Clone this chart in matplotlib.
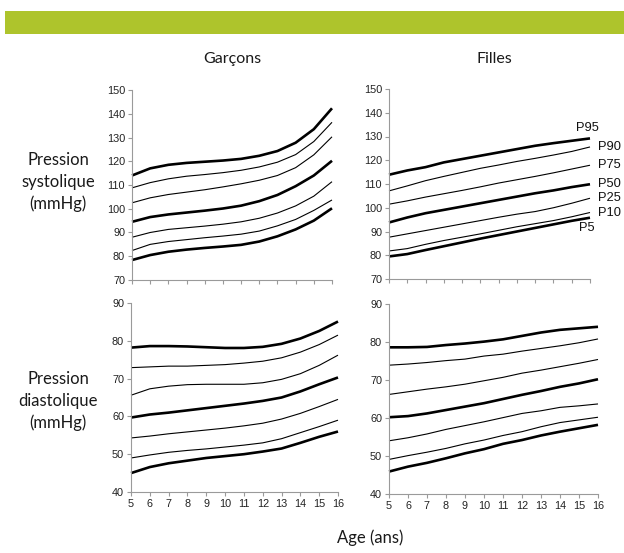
"""Courbes de pression artérielle (P5-P95) garçons / filles, 5 à 16 ans."""
import numpy as np
import matplotlib
matplotlib.use("Agg")
import matplotlib.pyplot as plt
from matplotlib.patches import Rectangle

plt.rcParams.update({"font.family": ["Liberation Sans", "DejaVu Sans"]})

ages = list(range(5, 17))
pct_names = ["P95", "P90", "P75", "P50", "P25", "P10", "P5"]
thick = {"P95", "P50", "P5"}

# pression systolique, garçons
sys_boys = {
    "P95": [114, 117, 118.5, 119.3, 119.8, 120.3, 121, 122.3, 124.3, 127.8, 133.5, 142.3],
    "P90": [108.8, 111, 112.6, 113.7, 114.4, 115.2, 116.2, 117.6, 119.6, 122.8, 128.3, 136.4],
    "P75": [102.5, 104.6, 106, 107, 108, 109.2, 110.5, 112, 114, 117.3, 122.7, 130.3],
    "P50": [94.5, 96.5, 97.6, 98.4, 99.2, 100.1, 101.3, 103.2, 105.8, 109.5, 114, 120.2],
    "P25": [88, 90, 91.3, 92, 92.7, 93.5, 94.5, 96, 98.2, 101.2, 105.3, 111.4],
    "P10": [82.4, 85, 86.2, 87, 87.8, 88.5, 89.3, 90.6, 92.8, 95.5, 99.3, 103.7],
    "P5": [78.4, 80.5, 81.9, 82.8, 83.5, 84.1, 84.8, 86.2, 88.4, 91.3, 95, 100.2],
}
# pression systolique, filles
sys_girls = {
    "P95": [113.9, 115.7, 117.1, 119.1, 120.5, 121.9, 123.3, 124.7, 126.1, 127.2, 128.2, 129.2],
    "P90": [107.1, 109.2, 111.4, 113.2, 114.9, 116.6, 118, 119.5, 120.8, 122.2, 123.7, 125.6],
    "P75": [101.5, 102.9, 104.5, 105.9, 107.3, 108.8, 110.4, 111.8, 113.2, 114.7, 116.3, 117.9],
    "P50": [93.8, 95.9, 97.7, 99.1, 100.5, 101.9, 103.3, 104.7, 106.1, 107.3, 108.7, 109.9],
    "P25": [87.6, 89, 90.4, 91.8, 93.2, 94.6, 96, 97.3, 98.4, 100, 101.9, 104],
    "P10": [81.8, 82.8, 84.6, 86.2, 87.6, 89, 90.5, 92, 93.3, 94.6, 96.2, 98],
    "P5": [79.5, 80.5, 82.2, 83.8, 85.4, 87, 88.5, 90, 91.5, 93, 94.5, 95.8],
}
# pression diastolique, garçons
dia_boys = {
    "P95": [78.2, 78.6, 78.6, 78.5, 78.3, 78.1, 78.1, 78.4, 79.2, 80.6, 82.6, 85.1],
    "P90": [72.9, 73.1, 73.3, 73.3, 73.5, 73.7, 74.1, 74.6, 75.5, 77, 79, 81.5],
    "P75": [65.6, 67.3, 68, 68.4, 68.5, 68.5, 68.5, 68.9, 69.8, 71.3, 73.5, 76.2],
    "P50": [59.7, 60.5, 61, 61.6, 62.2, 62.8, 63.4, 64.1, 65, 66.6, 68.5, 70.3],
    "P25": [54.3, 54.8, 55.4, 55.9, 56.4, 56.9, 57.5, 58.2, 59.3, 60.8, 62.6, 64.5],
    "P10": [49, 49.8, 50.5, 51, 51.4, 51.9, 52.4, 53, 54.1, 55.7, 57.3, 59],
    "P5": [45, 46.6, 47.6, 48.3, 49, 49.5, 50, 50.7, 51.5, 53, 54.6, 56],
}
# pression diastolique, filles
dia_girls = {
    "P95": [78.6, 78.6, 78.7, 79.2, 79.6, 80.1, 80.7, 81.6, 82.5, 83.2, 83.6, 84],
    "P90": [73.9, 74.2, 74.6, 75.1, 75.5, 76.3, 76.8, 77.6, 78.3, 79, 79.8, 80.8],
    "P75": [66.2, 66.9, 67.6, 68.2, 68.9, 69.8, 70.7, 71.8, 72.6, 73.5, 74.4, 75.4],
    "P50": [60.2, 60.5, 61.2, 62.1, 63, 63.9, 65, 66.1, 67.1, 68.2, 69.1, 70.2],
    "P25": [54, 54.8, 55.8, 57, 58, 59, 60.1, 61.2, 61.9, 62.8, 63.2, 63.7],
    "P10": [49.1, 50.1, 51, 52, 53.2, 54.2, 55.4, 56.4, 57.7, 58.8, 59.5, 60.2],
    "P5": [45.9, 47.2, 48.2, 49.4, 50.7, 51.8, 53.2, 54.2, 55.4, 56.4, 57.3, 58.2],
}

W, H = 624, 553
fig = plt.figure(figsize=(W / 100, H / 100), dpi=100)


def px_axes(x0, x1, ytop, ybot):
    return fig.add_axes([x0 / W, 1 - ybot / H, (x1 - x0) / W, (ybot - ytop) / H])


def style(ax, ylim, yticks):
    ax.set_xlim(5, 16)
    ax.set_ylim(*ylim)
    ax.set_xticks(ages)
    ax.set_yticks(yticks)
    for s in ("top", "right"):
        ax.spines[s].set_visible(False)
    for s in ("left", "bottom"):
        ax.spines[s].set_color("#9a9a9a")
        ax.spines[s].set_linewidth(0.8)
    ax.tick_params(direction="out", length=3, width=0.8, color="#9a9a9a",
                   labelsize=7.8, labelcolor="#222222", pad=2)
    ax.patch.set_alpha(0)


def draw(ax, data):
    for p in pct_names:
        ax.plot(ages, data[p], color="black", lw=1.9 if p in thick else 0.8,
                solid_joinstyle="round", solid_capstyle="butt", clip_on=False)


ax_tl = px_axes(132, 332, 90, 280)
ax_tr = px_axes(389, 590, 89, 279)
ax_bl = px_axes(131, 338, 303, 492)
ax_br = px_axes(389, 598, 304, 494)

for ax, d in ((ax_tl, sys_boys), (ax_tr, sys_girls)):
    draw(ax, d)
    style(ax, (70, 150), range(70, 151, 10))
    ax.tick_params(axis="x", labelbottom=False)
for ax, d in ((ax_bl, dia_boys), (ax_br, dia_girls)):
    draw(ax, d)
    style(ax, (40, 90), range(40, 91, 10))

# étiquettes des percentiles (filles, systolique)
for p in pct_names:
    y_end = sys_girls[p][-1]
    if p == "P95":
        off, ha, va = (-2, 3), "center", "bottom"
    elif p == "P5":
        off, ha, va = (-2, -3), "center", "top"
    else:
        off, ha, va = (6, 0), "left", "center"
    ax_tr.annotate(p, (ages[-1], y_end), xytext=off, textcoords="offset points",
                   ha=ha, va=va, fontsize=9.3, color="#111111")

# bandeau vert
fig.patches.append(Rectangle((5 / W, 1 - 34 / H), 1 - 5 / W, 23 / H,
                             transform=fig.transFigure, color="#aec42c", lw=0))

hfont = ["Lato", "DejaVu Sans"]
fig.text(232 / W, 1 - 59 / H, "Garçons", ha="center", va="center", fontsize=11.5,
         family=hfont, color="#1a1a1a")
fig.text(494 / W, 1 - 59 / H, "Filles", ha="center", va="center", fontsize=11.5,
         family=hfont, color="#1a1a1a")
fig.text(58 / W, 1 - 182 / H, "Pression\nsystolique\n(mmHg)", ha="center", va="center",
         fontsize=12, family=hfont, linespacing=1.45, color="#1a1a1a")
fig.text(58 / W, 1 - 401 / H, "Pression\ndiastolique\n(mmHg)", ha="center", va="center",
         fontsize=12, family=hfont, linespacing=1.45, color="#1a1a1a")
fig.text(370 / W, 1 - 538 / H, "Age (ans)", ha="center", va="center", fontsize=12,
         family=hfont, color="#1a1a1a")

fig.savefig("out.png", dpi=100)
print("Saved out.png")
